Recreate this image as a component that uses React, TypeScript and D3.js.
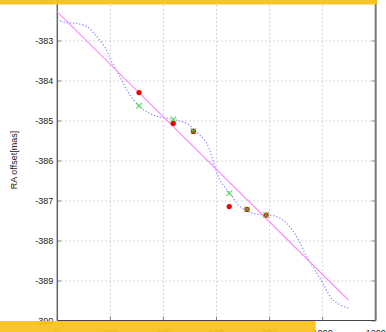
import React from "react";
import * as d3 from "d3";

const xTicks = [0, 200, 400, 600, 800, 1000, 1200];
const yTicks = [-390, -389, -388, -387, -386, -385, -384, -383, -382];

const obsX = [308, 437, 513, 648, 715, 787];
const obsY = [-384.29, -385.06, -385.26, -387.14, -387.21, -387.35];

const modX = [308, 437, 513, 648, 715, 787];
const modY = [-384.62, -384.96, -385.25, -386.81, -387.21, -387.35];

const curveX = [0, 35, 73, 111, 149, 186, 202, 236, 262, 299, 337, 375, 412, 450, 488, 525, 563, 594, 613, 651, 689, 739, 789, 827, 865, 902, 940, 978, 1001, 1039, 1097];
const curveY = [-382.475, -382.54, -382.56, -382.64, -382.89, -383.23, -383.48, -383.89, -384.23, -384.56, -384.77, -384.88, -384.93, -384.98, -385.06, -385.27, -385.56, -386.14, -386.48, -386.81, -387.14, -387.31, -387.35, -387.39, -387.56, -387.89, -388.39, -388.8, -389.05, -389.48, -389.68];

const fitX = [0, 1097];
const fitY = [-382.27, -389.475];

export default function App() {
  const W = 386, H = 332;
  const x = d3.scaleLinear().domain([0, 1200]).range([57.3, 375.7]);
  const y = d3.scaleLinear().domain([-390, -382]).range([321, 1]);
  const left = x(0), right = x(1200), top = y(-382), bottom = 320.5;

  const curvePts: [number, number][] = curveX.map((v, i) => [v, curveY[i]]);
  const line = d3.line<[number, number]>().x(d => x(d[0])).y(d => y(d[1])).curve(d3.curveCatmullRom.alpha(0.5));
  const fitPts: [number, number][] = fitX.map((v, i) => [v, fitY[i]]);
  const fitLine = d3.line<[number, number]>().x(d => x(d[0])).y(d => y(d[1]));

  const font = "'Liberation Sans', Arial, sans-serif";

  return (
    <svg width={W} height={H} style={{ position: "absolute", left: 0, top: 0, background: "#fff" }}>
      {/* grid */}
      {xTicks.filter(t => t > 0 && t < 1200).map(t => (
        <line key={"gx" + t} x1={x(t)} x2={x(t)} y1={top} y2={bottom} stroke="#c8c8c8" strokeWidth={1} strokeDasharray="1.5,2.5" />
      ))}
      {yTicks.filter(t => t > -390 && t < -382).map(t => (
        <line key={"gy" + t} x1={left} x2={right} y1={y(t)} y2={y(t)} stroke="#c8c8c8" strokeWidth={1} strokeDasharray="1.5,2.5" />
      ))}
      {/* ticks */}
      {yTicks.map(t => (
        <g key={"ty" + t}>
          <line x1={left} x2={left + 4} y1={y(t)} y2={y(t)} stroke="#888" strokeWidth={1} />
          <line x1={right - 4} x2={right} y1={y(t)} y2={y(t)} stroke="#888" strokeWidth={1} />
          <text x={left - 4} y={y(t)} dy="0.33em" textAnchor="end" fontSize={9} fontFamily={font} fill="#222">{t}</text>
        </g>
      ))}
      {xTicks.map(t => (
        <g key={"tx" + t}>
          <line x1={x(t)} x2={x(t)} y1={bottom} y2={bottom - 4} stroke="#888" strokeWidth={1} />
          <text x={x(t)} y={336} textAnchor="middle" fontSize={9} fontFamily={font} fill="#222">{t}</text>
        </g>
      ))}
      {/* frame */}
      <line x1={left} x2={right} y1={bottom} y2={bottom} stroke="#444" strokeWidth={1} />
      <line x1={left} x2={left} y1={0} y2={bottom} stroke="#666" strokeWidth={1.5} />
      <line x1={right} x2={right} y1={0} y2={bottom} stroke="#777" strokeWidth={2} />
      {/* model curve */}
      <path d={line(curvePts) || ""} fill="none" stroke="#8080ff" strokeWidth={1.2} strokeDasharray="1.2,2" />
      {/* fit */}
      <path d={fitLine(fitPts) || ""} fill="none" stroke="#ff88ff" strokeWidth={1.1} />
      {/* observations */}
      {obsX.map((v, i) => (
        <circle key={"o" + i} cx={x(v)} cy={y(obsY[i])} r={2.6} fill="#ee0000" />
      ))}
      {/* model points */}
      {modX.map((v, i) => (
        <g key={"m" + i} stroke="#3fd43f" strokeWidth={1.1} opacity={0.85}>
          <line x1={x(v) - 2.8} x2={x(v) + 2.8} y1={y(modY[i]) - 2.8} y2={y(modY[i]) + 2.8} />
          <line x1={x(v) - 2.8} x2={x(v) + 2.8} y1={y(modY[i]) + 2.8} y2={y(modY[i]) - 2.8} />
        </g>
      ))}
      {/* y label */}
      <text transform="translate(17,160) rotate(-90)" textAnchor="middle" fontSize={9} fontFamily={font} fill="#222">RA offset[mas]</text>
      {/* bands */}
      <rect x={0} y={0} width={377} height={4.5} fill="#f7c21a" opacity={0.95} />
      <rect x={0} y={321} width={315.7} height={11} fill="#f7c21a" opacity={0.93} />
    </svg>
  );
}
